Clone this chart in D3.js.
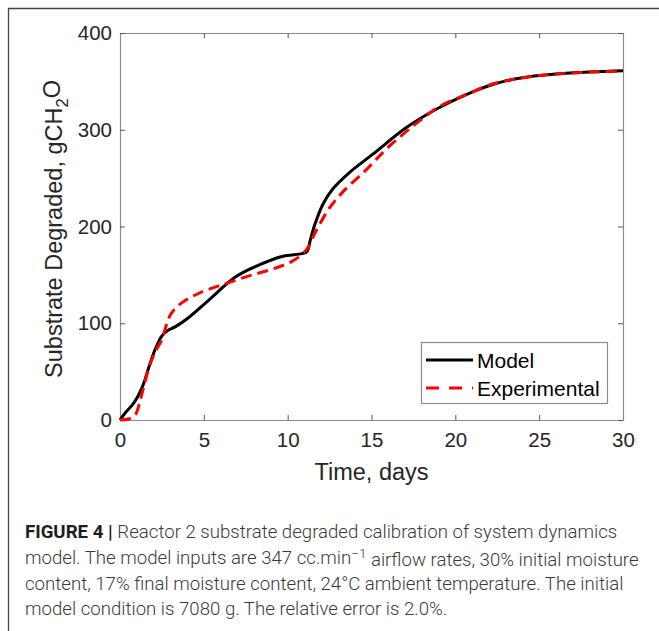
<!DOCTYPE html>
<html>
<head>
<meta charset="utf-8">
<script src="https://cdn.jsdelivr.net/npm/d3@7"></script>
<style>
  body { margin: 0; background: #fff; }
  svg { display: block; }
</style>
</head>
<body>
<svg id="canvas" width="659" height="631"></svg>
<script>
// values
const modelDays = [0, 0.34, 0.83, 1.33, 1.73, 2.12, 2.5, 2.82, 3.31, 4.1, 5.3, 6.9, 8.27, 9.66, 10.85, 11.15, 11.35, 11.6, 12.1, 12.7, 13.7, 15.1, 17.1, 19.05, 21.0, 22.0, 23.0, 24.0, 25.0, 26.0, 28.0, 30];
const modelValues = [0, 8, 17.6, 34, 55, 74, 87, 92.3, 96.5, 106, 124, 148, 160, 169, 172, 174, 186, 201, 223, 239, 256, 275, 302.5, 323, 339, 345.5, 350.5, 353.8, 356, 357.6, 359.6, 361];

const expDays = [0, 0.5, 0.9, 1.2, 1.5, 1.8, 2.15, 2.5, 2.8, 3.05, 3.6, 4.7, 6.3, 7.9, 9.27, 10.26, 10.9, 11.2, 11.65, 12.45, 13.25, 14.65, 16.0, 18.0, 19.05, 21.0, 22.0, 23.0, 24.0, 25.0, 26.0, 28.0, 30];
const expValues = [0, 1, 5, 20, 40, 58, 72, 83, 100, 110, 120, 131, 141, 150, 157, 164, 172, 178, 194, 218, 235, 258, 282, 311, 324, 339, 346, 350.5, 353.8, 356, 357.6, 359.6, 361];

const xTicks = [0, 5, 10, 15, 20, 25, 30];
const yTicks = [0, 100, 200, 300, 400];
const legendLabels = ["Model", "Experimental"];

const captionLines = [
  [{t: "FIGURE 4 | ", b: true}, {t: "Reactor 2 substrate degraded calibration of system dynamics"}],
  [{t: "model. The model inputs are 347 cc.min"}, {t: "\u22121", sup: true}, {t: " airflow rates, 30% initial moisture"}],
  [{t: "content, 17% final moisture content, 24\u00b0C ambient temperature. The initial"}],
  [{t: "model condition is 7080 g. The relative error is 2.0%."}]
];

let svg = d3.select("#canvas");
let font = "'Liberation Sans', Arial, sans-serif";

let x = d3.scaleLinear().domain([0, 30]).range([120, 623]);
let y = d3.scaleLinear().domain([0, 400]).range([420, 33]);

// outer figure frame (left + top only)
svg.append("path")
    .attr("d", "M8.5,631V8.5H659")
    .attr("fill", "none")
    .attr("stroke", "#444")
    .attr("stroke-width", 1.3);

// axes box
let styleAxis = (g, showText) => {
    g.select(".domain").attr("stroke", "#8c8c8c");
    g.selectAll(".tick line").attr("stroke", "#555");
    g.selectAll("text")
        .attr("fill", "#262626")
        .style("font-family", font)
        .style("font-size", "20.5px");
    if (!showText) g.selectAll("text").remove();
};

svg.append("g")
    .attr("transform", "translate(0,420)")
    .call(d3.axisBottom(x).tickValues(xTicks).tickSize(-5).tickSizeOuter(0).tickPadding(12))
    .call(g => styleAxis(g, true));

svg.append("g")
    .attr("transform", "translate(0,33)")
    .call(d3.axisTop(x).tickValues(xTicks).tickSize(-5).tickSizeOuter(0))
    .call(g => styleAxis(g, false));

svg.append("g")
    .attr("transform", "translate(120,0)")
    .call(d3.axisLeft(y).tickValues(yTicks).tickSize(-5).tickSizeOuter(0).tickPadding(8))
    .call(g => styleAxis(g, true));

svg.append("g")
    .attr("transform", "translate(623,0)")
    .call(d3.axisRight(y).tickValues(yTicks).tickSize(-5).tickSizeOuter(0))
    .call(g => styleAxis(g, false));

svg.selectAll(".domain").attr("stroke-width", 1.2);

// series
let line = d3.line()
    .x(d => x(d[0]))
    .y(d => y(d[1]))
    .curve(d3.curveCatmullRom.alpha(0.5));

svg.append("path")
    .datum(modelDays.map((d, i) => [d, modelValues[i]]))
    .attr("d", line)
    .attr("fill", "none")
    .attr("stroke", "#000")
    .attr("stroke-width", 3);

svg.append("path")
    .datum(expDays.map((d, i) => [d, expValues[i]]))
    .attr("d", line)
    .attr("fill", "none")
    .attr("stroke", "#ff0000")
    .attr("stroke-width", 3)
    .attr("stroke-dasharray", "11,6");

// axis titles
svg.append("text")
    .attr("x", 371.5)
    .attr("y", 480)
    .attr("text-anchor", "middle")
    .attr("fill", "#262626")
    .style("font-family", font)
    .style("font-size", "23.5px")
    .text("Time, days");

let yl = svg.append("text")
    .attr("transform", "translate(62,229) rotate(-90)")
    .attr("text-anchor", "middle")
    .attr("fill", "#262626")
    .style("font-family", font)
    .style("font-size", "23.5px");
yl.append("tspan").text("Substrate Degraded, gCH");
yl.append("tspan").attr("dy", "0.35em").style("font-size", "16.5px").text("2");
yl.append("tspan").attr("dy", "-0.35em").text("O");

// legend
let legend = svg.append("g");
legend.append("rect")
    .attr("x", 421.5).attr("y", 342.5)
    .attr("width", 186).attr("height", 61)
    .attr("fill", "#fff")
    .attr("stroke", "#8c8c8c")
    .attr("stroke-width", 1.2);

legendLabels.forEach((lab, i) => {
    let ly = 360 + i * 28;
    legend.append("line")
        .attr("x1", 426).attr("x2", 473)
        .attr("y1", ly).attr("y2", ly)
        .attr("stroke", i == 0 ? "#000" : "#ff0000")
        .attr("stroke-width", 3)
        .attr("stroke-dasharray", i == 0 ? null : "13,10");
    legend.append("text")
        .attr("x", 477)
        .attr("y", ly + 7.5)
        .attr("fill", "#000")
        .style("font-family", font)
        .style("font-size", "21px")
        .text(lab);
});

// caption
let capFont = "Roboto, 'Liberation Sans', Arial, sans-serif";
let baselines = [538, 564, 589.5, 615];
let capTexts = captionLines.map((parts, i) => {
    let t = svg.append("text")
        .attr("x", 25)
        .attr("y", baselines[i])
        .attr("fill", "#3a3a3a")
        .style("font-family", capFont)
        .style("font-weight", 300)
        .style("font-size", "16px");
    parts.forEach(p => {
        let s = t.append("tspan").text(p.t);
        if (p.b) s.style("font-weight", 700).attr("fill", "#1e1e1e");
        if (p.sup) s.attr("dy", "-0.45em").style("font-size", "0.72em");
        if (!p.sup && s.node().previousSibling && s.node().previousSibling.getAttribute("dy")) s.attr("dy", "0.45em");
    });
    return t;
});
// fit the caption to the width measured on the reference (line 2 spans x 25..639)
let w = capTexts[1].node().getComputedTextLength();
let fs = 16 * 614 / w;
capTexts.forEach(t => t.style("font-size", fs + "px"));
</script>
</body>
</html>
